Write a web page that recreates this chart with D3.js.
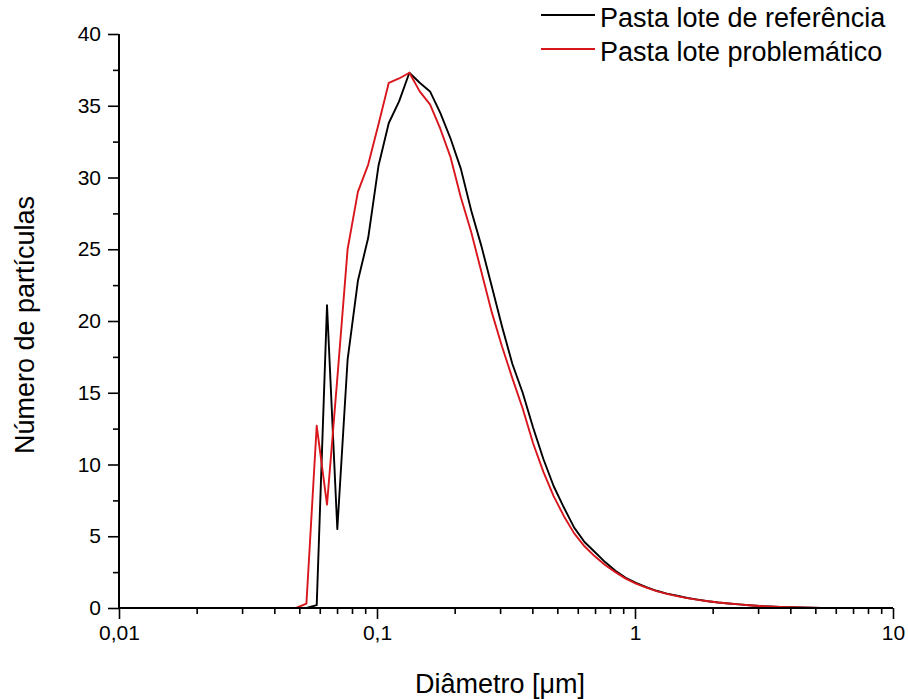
<!DOCTYPE html>
<html>
<head>
<meta charset="utf-8">
<script src="https://cdn.jsdelivr.net/npm/d3@7"></script>
<style>
  body { margin: 0; background: #fff; }
  text { font-family: "Liberation Sans", Arial, sans-serif; fill: #000; }
</style>
</head>
<body>
<div id="chart"></div>
<script>
// particle diameters (um), log spaced bins
var diameters = [0.04042, 0.04431, 0.04858, 0.05326, 0.05839, 0.06401, 0.07017, 0.07692, 0.08433, 0.09245,
  0.1013, 0.1111, 0.1218, 0.1335, 0.1464, 0.1605, 0.1759, 0.1929, 0.2114, 0.2318,
  0.2541, 0.2786, 0.3054, 0.3348, 0.3670, 0.4024, 0.4411, 0.4836, 0.5302, 0.5812,
  0.6372, 0.6985, 0.7658, 0.8395, 0.9203, 1.009, 1.106, 1.212, 1.329, 1.457,
  1.597, 1.751, 1.919, 2.104, 2.307, 2.529, 2.773, 3.040, 3.333, 3.653,
  4.005, 4.391, 4.814, 5.277, 5.785, 6.342, 6.953, 7.622, 8.356, 9.161, 10.0];

var refValues = [0, 0, 0, 0, 0.2, 21.1, 5.5, 17.3, 22.8, 25.8,
  30.8, 33.8, 35.3, 37.3, 36.6, 36.0, 34.5, 32.7, 30.6, 27.7,
  25.2, 22.4, 19.6, 17.0, 15.0, 12.6, 10.4, 8.5, 7.0, 5.6,
  4.6, 3.9, 3.2, 2.6, 2.1, 1.75, 1.45, 1.2, 1.0, 0.85,
  0.7, 0.58, 0.47, 0.38, 0.31, 0.25, 0.19, 0.14, 0.1, 0.07,
  0.05, 0.03, 0.02, 0.01, 0, 0, 0, 0, 0, 0, 0];

var probValues = [0, 0, 0, 0.3, 12.7, 7.2, 16.0, 25.0, 29.0, 30.9,
  33.7, 36.6, 36.9, 37.3, 36.0, 35.1, 33.4, 31.4, 28.6, 26.2,
  23.4, 20.6, 18.2, 16.0, 13.9, 11.5, 9.5, 7.8, 6.4, 5.2,
  4.3, 3.6, 3.0, 2.5, 2.05, 1.7, 1.42, 1.18, 0.98, 0.83,
  0.69, 0.57, 0.47, 0.38, 0.31, 0.25, 0.19, 0.14, 0.1, 0.07,
  0.05, 0.03, 0.02, 0.01, 0, 0, 0, 0, 0, 0, 0];

var seriesNames = ["Pasta lote de referência", "Pasta lote problemático"];
var seriesColors = ["#000000", "#d9161c"];

var xMajorTicks = [0.01, 0.1, 1, 10];
var xTickLabels = ["0,01", "0,1", "1", "10"];
var yMajorTicks = [0, 5, 10, 15, 20, 25, 30, 35, 40];
var yMinorTicks = [2.5, 7.5, 12.5, 17.5, 22.5, 27.5, 32.5, 37.5];

var width = 908, height = 699;
var margin = {top: 34, right: 15, bottom: 91, left: 119};
var plotW = width - margin.left - margin.right,
    plotH = height - margin.top - margin.bottom;

var svg = d3.select("#chart").append("svg")
    .attr("width", width)
    .attr("height", height);

var g = svg.append("g")
    .attr("transform", "translate(" + margin.left + "," + margin.top + ")");

var x = d3.scaleLog().domain([0.01, 10]).range([0, plotW]);
var y = d3.scaleLinear().domain([0, 40]).range([plotH, 0]);

// minor ticks of the log axis (2..9 in each decade)
var xMinorTicks = x.ticks().filter(function(t) { return xMajorTicks.indexOf(t) < 0; });

// curves
var line = d3.line()
    .x(function(d) { return x(d.d); })
    .y(function(d) { return y(d.v); });

[refValues, probValues].forEach(function(vals, k) {
  var pts = diameters.map(function(d, i) { return {d: d, v: vals[i]}; });
  g.append("path")
      .datum(pts)
      .attr("fill", "none")
      .attr("stroke", seriesColors[k])
      .attr("stroke-width", 1.9)
      .attr("stroke-linejoin", "round")
      .attr("d", line);
});

// x axis
var xAxis = g.append("g").attr("transform", "translate(0," + plotH + ")");
xAxis.call(d3.axisBottom(x).tickValues(xMajorTicks).tickSize(11).tickPadding(6)
    .tickFormat(function(d, i) { return xTickLabels[i]; }));
xAxis.append("g").call(d3.axisBottom(x).tickValues(xMinorTicks).tickSize(6).tickFormat(""))
    .select(".domain").remove();

// y axis
var yAxis = g.append("g");
yAxis.call(d3.axisLeft(y).tickValues(yMajorTicks).tickSize(11).tickPadding(7));
yAxis.append("g").call(d3.axisLeft(y).tickValues(yMinorTicks).tickSize(6).tickFormat(""))
    .select(".domain").remove();

svg.selectAll(".domain").attr("stroke-width", 2).attr("d", null);
xAxis.select(".domain").attr("d", "M0,0H" + plotW);
yAxis.select(".domain").attr("d", "M0,0V" + plotH);
svg.selectAll(".tick line").attr("stroke-width", 1.6);
svg.selectAll(".tick text").attr("font-size", 21).attr("font-family", "'Liberation Sans', Arial, sans-serif");

// axis titles
svg.append("text")
    .attr("x", 500)
    .attr("y", 693)
    .attr("text-anchor", "middle")
    .attr("font-size", 27)
    .text("Diâmetro [μm]");

svg.append("text")
    .attr("transform", "translate(34," + (margin.top + y(20) + 4) + ")rotate(-90)")
    .attr("text-anchor", "middle")
    .attr("font-size", 27)
    .text("Número de partículas");

// legend
var legend = svg.append("g").attr("transform", "translate(541,15)");
seriesNames.forEach(function(name, k) {
  var row = legend.append("g").attr("transform", "translate(0," + (k * 34) + ")");
  row.append("line")
      .attr("x1", 0).attr("x2", 54)
      .attr("stroke", seriesColors[k])
      .attr("stroke-width", 2);
  row.append("text")
      .attr("x", 59)
      .attr("y", 12)
      .attr("font-size", 27)
      .text(name);
});
</script>
</body>
</html>
